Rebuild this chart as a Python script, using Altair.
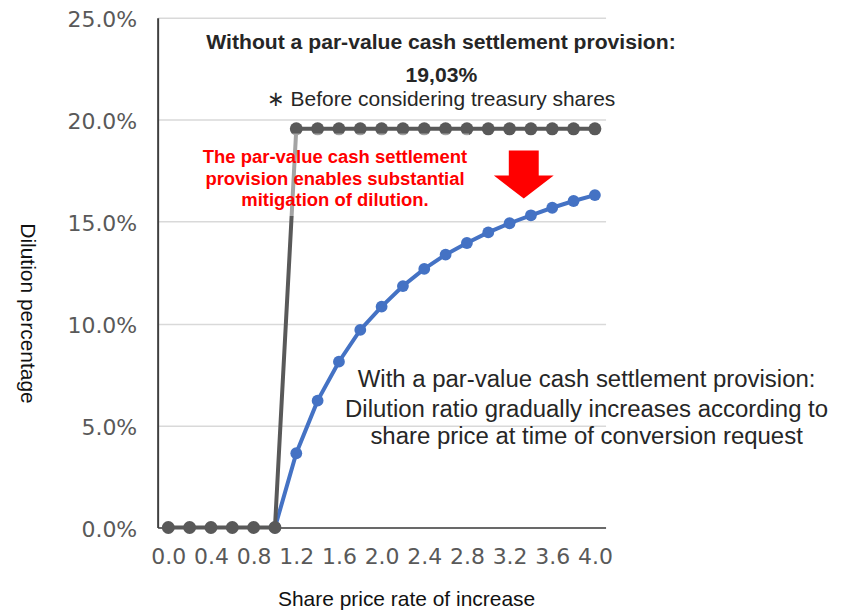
import altair as alt
import pandas as pd

# ---- data ----
x_rate = [0.0, 0.2, 0.4, 0.6, 0.8, 1.0, 1.2, 1.4, 1.6, 1.8, 2.0,
          2.2, 2.4, 2.6, 2.8, 3.0, 3.2, 3.4, 3.6, 3.8, 4.0]
without_provision = [0.0, 0.0, 0.0, 0.0, 0.0, 0.0,
                     0.1955, 0.1955, 0.1955, 0.1955, 0.1955, 0.1955, 0.1955, 0.1955,
                     0.1955, 0.1955, 0.1955, 0.1955, 0.1955, 0.1955, 0.1955]
with_x = [1.0, 1.2, 1.4, 1.6, 1.8, 2.0, 2.2, 2.4, 2.6, 2.8, 3.0,
          3.2, 3.4, 3.6, 3.8, 4.0]
with_provision = [0.0, 0.0364, 0.0622, 0.0813, 0.0969, 0.1083, 0.1184, 0.1268,
                  0.1338, 0.1395, 0.1447, 0.1492, 0.1531, 0.1568, 0.1601, 0.1630]

x_ticks = [0.0, 0.4, 0.8, 1.2, 1.6, 2.0, 2.4, 2.8, 3.2, 3.6, 4.0]
y_ticks = [0.0, 0.05, 0.10, 0.15, 0.20, 0.25]

# annotations (positions in data units)
top_texts = ["Without a par-value cash settlement provision:", "19,03%",
             "\u2217 Before considering treasury shares"]
top_x = [2.557, 2.561, 2.557]
top_y = [0.2375, 0.2214, 0.2096]
top_weight = ["bold", "bold", "normal"]

red_texts = ["The par-value cash settlement", "provision enables substantial",
             "mitigation of dilution."]
red_x = [1.563, 1.563, 1.563]
red_y = [0.1817, 0.1711, 0.1605]

right_texts = ["With a par-value cash settlement provision:",
               "Dilution ratio gradually increases according to",
               "share price at time of conversion request"]
right_x = [3.922, 3.922, 3.922]
right_y = [0.0721, 0.0574, 0.0444]

arrow_x = [3.333]
arrow_y = [0.1731]

veil_x = [0.29]
veil_x2 = [2.82]
veil_y = [0.1932]
veil_y2 = [0.1527]

# ---- tables ----
df_gray = pd.DataFrame({"x": x_rate, "y": without_provision})
df_blue = pd.DataFrame({"x": with_x, "y": with_provision})
df_top = pd.DataFrame({"x": top_x, "y": top_y, "t": top_texts, "w": top_weight})
df_red = pd.DataFrame({"x": red_x, "y": red_y, "t": red_texts})
df_right = pd.DataFrame({"x": right_x, "y": right_y, "t": right_texts})
df_arrow = pd.DataFrame({"x": arrow_x, "y": arrow_y})
df_veil = pd.DataFrame({"x": veil_x, "x2": veil_x2, "y": veil_y, "y2": veil_y2})

FONT = "Liberation Sans"

X = alt.X("x:Q",
          scale=alt.Scale(domain=[-0.1, 4.1], nice=False, zero=False),
          axis=alt.Axis(values=x_ticks, format=".1f", grid=False, ticks=False, tickSize=0,
                        labelFont="DejaVu Sans", labelFontSize=22, labelColor="#595959",
                        labelPadding=19, labelBaseline="top",
                        domainColor="#404040", domainWidth=1.5,
                        title="Share price rate of increase", titleFont=FONT,
                        titleFontSize=21, titleFontWeight="normal", titleColor="#111111",
                        titleX=249, titleY=72, titleAlign="center", titleBaseline="middle"))
Y = alt.Y("y:Q",
          scale=alt.Scale(domain=[0, 0.25], nice=False),
          axis=alt.Axis(values=y_ticks, format=".1%", grid=True, gridColor="#d9d9d9",
                        gridWidth=1.5, ticks=False, tickSize=0,
                        labelFont="DejaVu Sans", labelFontSize=22, labelColor="#595959",
                        labelPadding=21, labelOffset=2,
                        domainColor="#404040", domainWidth=2,
                        title="Dilution percentage", titleFont=FONT,
                        titleFontSize=21, titleFontWeight="normal", titleColor="#111111",
                        titleAngle=90, titleX=-131, titleY=296, titleAlign="center",
                        titleBaseline="middle"))

blue_line = alt.Chart(df_blue).mark_line(color="#4472C4", strokeWidth=4).encode(x=X, y=Y)
blue_pts = alt.Chart(df_blue).mark_point(filled=True, color="#4472C4", size=140,
                                         opacity=1, shape="circle").encode(x=X, y=Y)
gray_line = alt.Chart(df_gray).mark_line(color="#595959", strokeWidth=4).encode(x=X, y=Y)
gray_pts = alt.Chart(df_gray).mark_point(filled=True, color="#595959", size=169,
                                         opacity=1, shape="circle").encode(x=X, y=Y)

veil = alt.Chart(df_veil).mark_rect(color="white", opacity=0.45).encode(
    x=X, x2="x2:Q", y=Y, y2="y2:Q")

top_bold = alt.Chart(df_top).transform_filter(alt.datum.w == "bold").mark_text(
    font=FONT, fontSize=21.2, fontWeight="bold", color="#262626",
    align="center", baseline="middle").encode(x=X, y=Y, text="t:N")
top_norm = alt.Chart(df_top).transform_filter(alt.datum.w == "normal").mark_text(
    font=FONT, fontSize=21, fontWeight="normal", color="#262626",
    align="center", baseline="middle").encode(x=X, y=Y, text="t:N")
red_txt = alt.Chart(df_red).mark_text(
    font=FONT, fontSize=18.5, fontWeight="bold", color="#FF0000",
    align="center", baseline="middle").encode(x=X, y=Y, text="t:N")
right_txt = alt.Chart(df_right).mark_text(
    font=FONT, fontSize=24, fontWeight="normal", color="#262626",
    align="center", baseline="middle").encode(x=X, y=Y, text="t:N")

arrow_path = ("M -0.5 -0.805 L 0.5 -0.805 L 0.5 0.03 L 1 0.03 L 0 0.805 "
              "L -1 0.03 L -0.5 0.03 Z")
arrow = alt.Chart(df_arrow).mark_point(shape=arrow_path, size=3600, filled=True,
                                       color="#FF0000", opacity=1,
                                       strokeWidth=0).encode(x=X, y=Y)

chart = alt.layer(
    blue_line, blue_pts, gray_line, gray_pts, veil,
    red_txt, arrow, top_bold, top_norm, right_txt
).properties(
    width=449, height=511,
    autosize=alt.AutoSizeParams(type="none"),
    padding={"left": 150, "top": 9, "right": 235, "bottom": 85},
    background="white",
).configure_view(stroke=None)

chart.save("out.html", embed_options={"renderer": "svg", "actions": False})
